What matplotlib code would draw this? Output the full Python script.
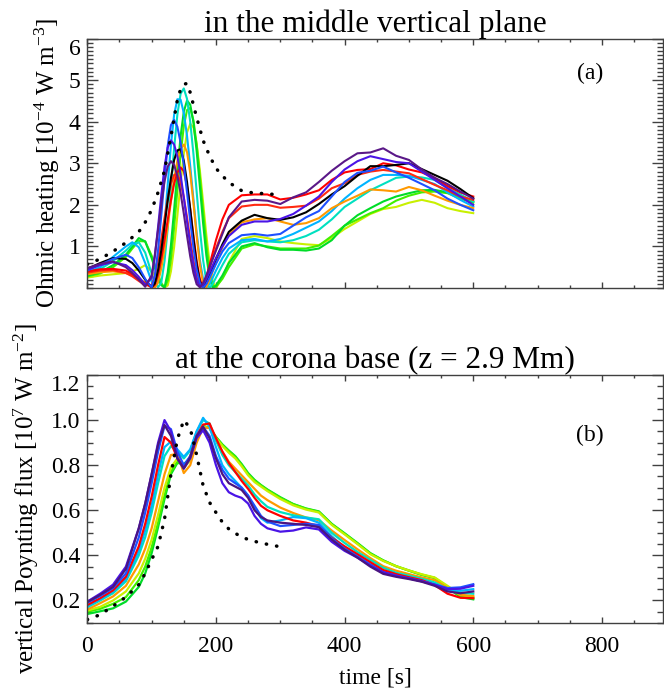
import matplotlib
matplotlib.use("Agg")
import matplotlib.pyplot as plt
from matplotlib.ticker import MultipleLocator, FixedLocator

plt.rcParams['font.family'] = ['Liberation Serif', 'DejaVu Serif']
plt.rcParams['mathtext.fontset'] = 'custom'
plt.rcParams['mathtext.rm'] = 'Liberation Serif'
plt.rcParams['mathtext.it'] = 'Liberation Serif:italic'

# ---- panel (a): ohmic heating in the middle vertical plane ----
ta = [0, 20, 40, 60, 70, 80, 90,
      100, 105, 110, 115, 120, 125, 130, 135, 140, 145, 150, 155, 160, 165, 170, 175, 180, 185, 190, 195, 200,
      210, 220, 240, 260, 280, 300, 320, 340, 360, 380, 400, 420, 440, 460, 480, 500, 520, 540, 560, 580, 600]

a_purple = [0.48, 0.58, 0.64, 0.5, 0.36, 0.2, 0.03,
            0.3, 0.8, 1.4, 2.02, 2.56, 2.92, 3.05, 2.96, 2.69, 2.29, 1.79, 1.26, 0.76, 0.36, 0.09, 0.02, 0.12, 0.3, 0.5, 0.7, 0.9,
            1.3, 1.7, 2.08, 2.12, 2.1, 2.02, 2.18, 2.3, 2.55, 2.82, 3.05, 3.24, 3.26, 3.36, 3.18, 3.08, 2.85, 2.65, 2.5, 2.32, 2.15]
a_indigo = [0.45, 0.55, 0.62, 0.55, 0.43, 0.27, 0.08,
            0.24, 0.76, 1.47, 2.23, 2.91, 3.38, 3.55, 3.45, 3.17, 2.73, 2.18, 1.6, 1.03, 0.54, 0.19, 0.02, 0.08, 0.22, 0.38, 0.55, 0.72,
            1.0, 1.25, 1.52, 1.6, 1.6, 1.66, 1.78, 1.98, 2.2, 2.55, 2.85, 3.05, 3.17, 3.1, 3.03, 3.0, 2.8, 2.6, 2.4, 2.2, 2.0]
a_blue = [0.42, 0.56, 0.7, 0.8, 0.72, 0.5, 0.22,
          0.01, 0.29, 0.91, 1.75, 2.65, 3.42, 3.92, 4.04, 3.88, 3.5, 2.96, 2.3, 1.61, 0.98, 0.45, 0.12, 0.01, 0.1, 0.25, 0.42, 0.58,
          0.88, 1.08, 1.27, 1.3, 1.26, 1.3, 1.5, 1.7, 1.85, 2.2, 2.55, 2.77, 2.82, 2.92, 2.78, 2.65, 2.5, 2.35, 2.15, 2.0, 1.87]
a_black = [0.46, 0.6, 0.72, 0.7, 0.6, 0.42, 0.2,
           0.02, 0.11, 0.43, 0.91, 1.49, 2.1, 2.65, 3.08, 3.31, 3.34, 3.06, 2.55, 1.89, 1.18, 0.57, 0.15, 0.0, 0.12, 0.3, 0.5, 0.7,
           1.05, 1.35, 1.62, 1.76, 1.68, 1.64, 1.7, 1.82, 2.02, 2.25, 2.45, 2.7, 2.93, 2.93, 2.96, 3.0, 2.86, 2.72, 2.58, 2.38, 2.16]
a_red = [0.4, 0.45, 0.46, 0.42, 0.33, 0.22, 0.11,
         0.01, 0.08, 0.32, 0.7, 1.15, 1.64, 2.11, 2.51, 2.78, 2.9, 2.81, 2.45, 1.9, 1.26, 0.65, 0.21, 0.01, 0.25, 0.55, 0.85, 1.15,
         1.65, 2.0, 2.23, 2.25, 2.25, 2.13, 2.17, 2.25, 2.35, 2.6, 2.78, 2.84, 2.86, 3.0, 2.95, 2.85, 2.78, 2.65, 2.45, 2.3, 2.2]
a_red2 = [0.37, 0.42, 0.43, 0.36, 0.28, 0.17, 0.07,
          0.06, 0.3, 0.69, 1.17, 1.68, 2.15, 2.51, 2.72, 2.74, 2.55, 2.18, 1.7, 1.16, 0.66, 0.26, 0.04, 0.05, 0.25, 0.48, 0.72, 0.95,
          1.35, 1.68, 1.96, 2.0, 2.0, 1.93, 1.95, 1.98, 2.15, 2.4, 2.52, 2.72, 2.8, 2.84, 2.8, 2.76, 2.62, 2.48, 2.35, 2.2, 2.12]
a_orange = [0.33, 0.38, 0.4, 0.36, 0.3, 0.22, 0.13,
            0.03, 0.0, 0.14, 0.47, 0.93, 1.49, 2.08, 2.62, 3.06, 3.35, 3.45, 3.27, 2.76, 2.04, 1.25, 0.56, 0.11, 0.02, 0.2, 0.4, 0.6,
            0.98, 1.28, 1.58, 1.65, 1.68, 1.6, 1.52, 1.56, 1.68, 1.92, 2.08, 2.22, 2.37, 2.35, 2.32, 2.43, 2.35, 2.22, 2.1, 2.0, 1.92]
a_skyblue = [0.38, 0.5, 0.75, 1.0, 1.1, 0.98, 0.6,
             0.15, 0.02, 0.14, 0.67, 1.51, 2.49, 3.44, 4.17, 4.54, 4.53, 4.21, 3.66, 2.93, 2.13, 1.33, 0.67, 0.21, 0.01, 0.1, 0.25, 0.42,
             0.72, 0.95, 1.15, 1.18, 1.12, 1.18, 1.3, 1.45, 1.6, 1.85, 2.15, 2.4, 2.6, 2.72, 2.72, 2.7, 2.6, 2.5, 2.3, 2.12, 1.96]
a_turq = [0.35, 0.45, 0.65, 0.9, 1.05, 1.1, 0.85,
          0.35, 0.12, 0.02, 0.13, 0.64, 1.43, 2.4, 3.37, 4.17, 4.67, 4.8, 4.55, 4.0, 3.22, 2.31, 1.42, 0.67, 0.17, 0.0, 0.1, 0.25,
          0.55, 0.82, 1.1, 1.15, 1.12, 1.1, 1.15, 1.25, 1.4, 1.65, 1.95, 2.15, 2.35, 2.5, 2.65, 2.68, 2.66, 2.6, 2.4, 2.25, 2.08]
a_green = [0.3, 0.38, 0.55, 0.8, 1.0, 1.2, 1.12,
           0.72, 0.48, 0.25, 0.07, 0.01, 0.37, 1.03, 1.89, 2.81, 3.65, 4.24, 4.51, 4.41, 3.98, 3.29, 2.44, 1.56, 0.79, 0.24, 0.0, 0.06,
           0.3, 0.6, 1.0, 1.08, 0.98, 0.92, 0.92, 0.9, 0.95, 1.15, 1.5, 1.75, 1.92, 2.08, 2.2, 2.28, 2.35, 2.36, 2.3, 2.2, 2.08]
a_lime = [0.28, 0.35, 0.5, 0.75, 0.95, 1.13, 1.12,
          0.78, 0.55, 0.32, 0.12, 0.01, 0.18, 0.7, 1.47, 2.35, 3.21, 3.89, 4.28, 4.33, 4.03, 3.45, 2.68, 1.84, 1.04, 0.41, 0.06, 0.03,
          0.22, 0.5, 0.95, 1.05, 1.0, 0.95, 0.95, 0.95, 1.02, 1.25, 1.5, 1.65, 1.8, 1.92, 2.1, 2.22, 2.3, 2.32, 2.28, 2.15, 2.05]
a_yellow = [0.25, 0.3, 0.33, 0.36, 0.4, 0.46, 0.55,
            0.4, 0.3, 0.18, 0.08, 0.01, 0.06, 0.4, 0.99, 1.74, 2.53, 3.23, 3.74, 3.95, 3.86, 3.46, 2.83, 2.06, 1.28, 0.61, 0.16, 0.0,
            0.25, 0.62, 1.18, 1.25, 1.2, 1.12, 1.08, 1.05, 1.03, 1.2, 1.42, 1.6, 1.78, 1.9, 1.95, 2.05, 2.12, 2.05, 1.92, 1.85, 1.8]

ta_dot = [0, 20, 40, 60, 80, 90, 100, 110, 120, 130, 140, 145, 150, 155, 160, 170, 180, 190, 200, 210, 220, 240, 260, 280, 290]
a_dot = [0.57, 0.70, 0.88, 1.09, 1.35, 1.58, 1.88, 2.3, 2.82, 3.65, 4.52, 4.78, 4.9, 4.92, 4.7, 4.1, 3.55, 3.18, 2.88, 2.7, 2.54, 2.34, 2.28, 2.27, 2.25]

# ---- panel (b): vertical Poynting flux at the corona base ----
tb = [0, 20, 40, 60, 80, 90, 100, 110, 120, 130, 140, 150, 160, 170, 180, 190, 200, 210, 220, 230,
      240, 250, 260, 270, 280, 300, 320, 340, 360, 380, 400, 420, 440, 460, 480, 500, 520, 540, 560, 580, 600]

b_purple = [0.193, 0.225, 0.26, 0.34, 0.52, 0.63, 0.76, 0.89, 0.978, 0.93, 0.83, 0.785, 0.835, 0.93, 0.97, 0.92, 0.83, 0.76, 0.72, 0.705,
            0.69, 0.655, 0.6, 0.57, 0.555, 0.545, 0.54, 0.535, 0.525, 0.47, 0.425, 0.39, 0.35, 0.318, 0.305, 0.295, 0.283, 0.265, 0.24, 0.232, 0.24]
b_indigo = [0.195, 0.23, 0.27, 0.35, 0.52, 0.63, 0.76, 0.9, 1.0, 0.95, 0.83, 0.785, 0.83, 0.92, 0.955, 0.9, 0.8, 0.72, 0.68, 0.665,
            0.655, 0.63, 0.575, 0.54, 0.52, 0.505, 0.51, 0.524, 0.515, 0.46, 0.42, 0.39, 0.355, 0.325, 0.31, 0.298, 0.285, 0.27, 0.25, 0.252, 0.265]
b_blue = [0.19, 0.22, 0.255, 0.32, 0.48, 0.59, 0.72, 0.86, 0.975, 0.96, 0.86, 0.8, 0.84, 0.93, 0.97, 0.93, 0.84, 0.78, 0.74, 0.72,
          0.7, 0.665, 0.62, 0.575, 0.55, 0.53, 0.535, 0.54, 0.535, 0.475, 0.43, 0.395, 0.358, 0.325, 0.31, 0.298, 0.285, 0.27, 0.255, 0.258, 0.272]
b_red = [0.18, 0.21, 0.245, 0.305, 0.44, 0.54, 0.66, 0.8, 0.925, 0.9, 0.83, 0.79, 0.84, 0.93, 0.98, 0.985, 0.92, 0.86, 0.81, 0.77,
         0.73, 0.695, 0.655, 0.62, 0.6, 0.575, 0.555, 0.545, 0.53, 0.478, 0.44, 0.405, 0.37, 0.335, 0.317, 0.303, 0.29, 0.268, 0.23, 0.212, 0.21]
b_skyblue = [0.175, 0.205, 0.24, 0.295, 0.42, 0.51, 0.62, 0.76, 0.88, 0.905, 0.87, 0.837, 0.87, 0.95, 1.01, 0.97, 0.88, 0.8, 0.76, 0.73,
             0.7, 0.665, 0.61, 0.565, 0.545, 0.555, 0.57, 0.565, 0.545, 0.485, 0.435, 0.4, 0.362, 0.332, 0.315, 0.302, 0.289, 0.272, 0.245, 0.243, 0.25]
b_turq = [0.17, 0.2, 0.232, 0.285, 0.4, 0.48, 0.59, 0.72, 0.84, 0.885, 0.86, 0.83, 0.865, 0.95, 1.0, 0.985, 0.91, 0.845, 0.8, 0.77,
          0.74, 0.71, 0.67, 0.64, 0.615, 0.592, 0.578, 0.568, 0.56, 0.5, 0.455, 0.415, 0.38, 0.345, 0.323, 0.31, 0.296, 0.28, 0.25, 0.235, 0.23]
b_orange = [0.16, 0.188, 0.218, 0.265, 0.36, 0.43, 0.52, 0.64, 0.76, 0.845, 0.85, 0.765, 0.8, 0.9, 0.965, 0.965, 0.91, 0.86, 0.815, 0.785,
            0.755, 0.725, 0.695, 0.665, 0.645, 0.612, 0.588, 0.568, 0.556, 0.51, 0.468, 0.427, 0.388, 0.352, 0.332, 0.317, 0.302, 0.29, 0.255, 0.225, 0.22]
b_yellow = [0.155, 0.172, 0.2, 0.24, 0.32, 0.385, 0.47, 0.58, 0.7, 0.79, 0.83, 0.79, 0.82, 0.91, 0.97, 0.965, 0.92, 0.885, 0.855, 0.83,
            0.795, 0.755, 0.725, 0.705, 0.685, 0.65, 0.622, 0.603, 0.59, 0.535, 0.493, 0.45, 0.405, 0.375, 0.352, 0.333, 0.316, 0.302, 0.265, 0.225, 0.215]
b_lime = [0.15, 0.163, 0.185, 0.215, 0.29, 0.35, 0.435, 0.545, 0.665, 0.77, 0.815, 0.8, 0.825, 0.91, 0.975, 0.965, 0.925, 0.89, 0.862, 0.838,
          0.8, 0.76, 0.732, 0.71, 0.69, 0.655, 0.627, 0.607, 0.593, 0.538, 0.496, 0.452, 0.408, 0.377, 0.352, 0.333, 0.315, 0.3, 0.26, 0.22, 0.21]
b_green = [0.14, 0.152, 0.165, 0.195, 0.26, 0.32, 0.41, 0.525, 0.65, 0.76, 0.81, 0.805, 0.83, 0.91, 0.97, 0.965, 0.925, 0.892, 0.865, 0.84,
           0.805, 0.765, 0.735, 0.712, 0.692, 0.658, 0.628, 0.608, 0.595, 0.54, 0.498, 0.455, 0.41, 0.378, 0.352, 0.332, 0.313, 0.3, 0.258, 0.215, 0.205]

tb_dot = [0, 20, 40, 60, 80, 90, 100, 110, 120, 130, 140, 150, 160, 170, 180, 190, 200, 210, 220, 240, 260, 280, 300]
b_dot = [0.115, 0.137, 0.175, 0.215, 0.27, 0.32, 0.381, 0.44, 0.56, 0.76, 0.915, 1.0, 0.963, 0.845, 0.71, 0.635, 0.59, 0.547, 0.517, 0.48, 0.462, 0.449, 0.438]

# drawing order (last on top) and colours
lines_a = [(a_yellow, '#c8f000'), (a_lime, '#40f000'), (a_green, '#00dc28'), (a_turq, '#00e0c0'),
           (a_skyblue, '#00b4ff'), (a_orange, '#ff9900'), (a_red2, '#ff2a10'), (a_red, '#ff0000'),
           (a_black, '#000000'), (a_blue, '#1e50ff'), (a_indigo, '#4a14e6'), (a_purple, '#5a1888')]
lines_b = [(b_green, '#00dc28'), (b_lime, '#40f000'), (b_yellow, '#c8f000'), (b_orange, '#ff9900'),
           (b_turq, '#00e0c0'), (b_skyblue, '#00b4ff'), (b_red, '#ff0000'), (b_blue, '#1e50ff'),
           (b_indigo, '#4a14e6'), (b_purple, '#4b1480')]

fig = plt.figure(figsize=(6.64, 6.93), dpi=100)
ax1 = fig.add_axes([0.1315, 0.5844, 0.867, 0.36])
ax2 = fig.add_axes([0.1315, 0.101, 0.867, 0.3579])

axcol = '#404040'
fs = 17

for vals, c in lines_a:
    ax1.plot(ta, vals, color=c, lw=1.5, solid_joinstyle='round')
ax1.plot(ta_dot, a_dot, color='black', lw=2.5, linestyle=(0, (0.1, 2.9)), dash_capstyle='round')

for vals, c in lines_b:
    ax2.plot(tb, vals, color=c, lw=1.6, solid_joinstyle='round')
ax2.plot(tb_dot, b_dot, color='black', lw=2.5, linestyle=(0, (0.1, 2.9)), dash_capstyle='round')

for ax in (ax1, ax2):
    ax.set_xlim(0, 895)
    ax.xaxis.set_major_locator(FixedLocator([0, 200, 400, 600, 800]))
    ax.xaxis.set_minor_locator(MultipleLocator(50))
    for s in ax.spines.values():
        s.set_color(axcol)
        s.set_linewidth(1.0)
    ax.tick_params(which='both', direction='in', top=True, right=True, colors=axcol,
                   labelcolor='black', labelsize=fs, width=1.0)
    ax.tick_params(axis='x', which='major', length=4, pad=9)
    ax.tick_params(axis='x', which='minor', length=2)
    ax.tick_params(axis='y', which='major', length=8, pad=5)
    ax.tick_params(axis='y', which='minor', length=4)

ax1.set_ylim(0, 6)
ax1.yaxis.set_major_locator(FixedLocator([1, 2, 3, 4, 5, 6]))
ax1.yaxis.set_minor_locator(MultipleLocator(0.1))
ax1.set_xticklabels([])
ax1.set_ylabel(r'Ohmic heating [10$^{-4}$ W m$^{-3}$]', fontsize=18, labelpad=5)
ax1.set_title('in the middle vertical plane', fontsize=22.5, pad=3)
ax1.text(0.873, 0.862, '(a)', transform=ax1.transAxes, fontsize=fs, ha='center', va='center')

ax2.set_ylim(0.1, 1.2)
ax2.yaxis.set_major_locator(FixedLocator([0.2, 0.4, 0.6, 0.8, 1.0, 1.2]))
ax2.yaxis.set_minor_locator(MultipleLocator(0.05))
ax2.set_yticklabels(['0.2', '0.4', '0.6', '0.8', '1.0', '1.2'])
ax2.set_xticklabels(['0', '200', '400', '600', '800'])
ax2.set_ylabel(r'vertical Poynting flux [10$^{7}$ W m$^{-2}$]', fontsize=18, labelpad=7)
ax2.set_xlabel('time [s]', fontsize=fs, labelpad=8)
ax2.set_title('at the corona base (z = 2.9 Mm)', fontsize=22.5, pad=3)
ax2.text(0.873, 0.758, '(b)', transform=ax2.transAxes, fontsize=fs, ha='center', va='center')

# topmost y tick label sits just below the top edge, as in the original
for ax in (ax1, ax2):
    ax.get_yticklabels()[-1].set_verticalalignment('top')

fig.savefig('out.png', dpi=100)
